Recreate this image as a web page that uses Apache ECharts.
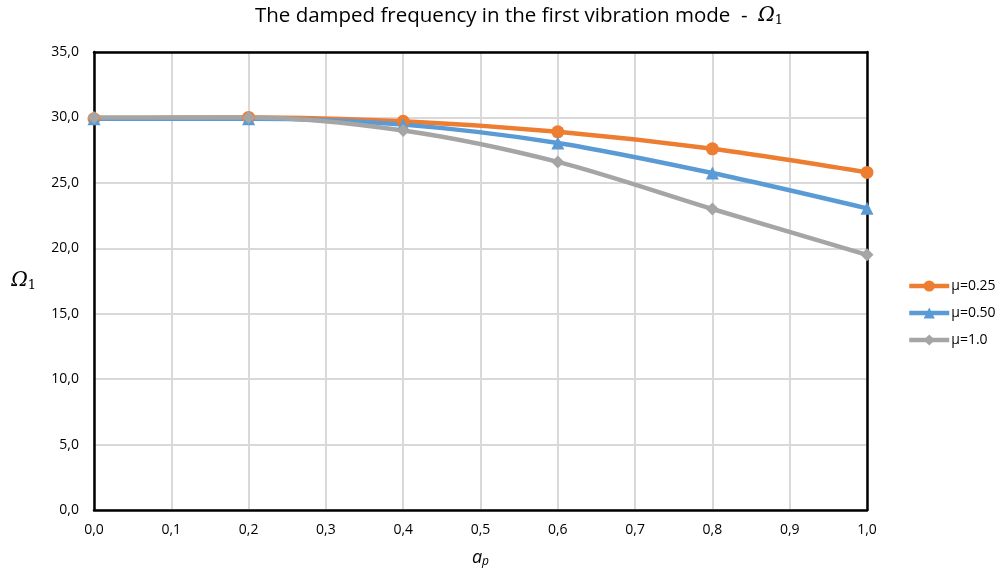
<!DOCTYPE html>
<html><head><meta charset="utf-8">
<script src="https://cdn.jsdelivr.net/npm/echarts@6/dist/echarts.min.js"></script>
<style>html,body{margin:0;padding:0;background:#fff}#c{width:1002px;height:582px}</style>
</head><body><div id="c"></div>
<script>
const xValues = [0.0, 0.2, 0.4, 0.6, 0.8, 1.0];
const mu025 = [29.9, 30.0, 29.7, 28.9, 27.6, 25.8];
const mu050 = [29.9, 29.9, 29.45, 28.05, 25.75, 23.05];
const mu100 = [30.0, 30.0, 29.0, 26.6, 23.0, 19.5];
const seriesNames = ['μ=0.25', 'μ=0.50', 'μ=1.0'];

const font = '"Open Sans", "Liberation Sans", sans-serif';
const pairs = v => xValues.map((x, i) => [x, v[i]]);
const fmt = v => v.toFixed(1).replace('.', ',');
const chart = echarts.init(document.getElementById('c'));
const mk = (name, data, color, symbol, size) => ({
  name, type: 'line', data: pairs(data), smooth: 0.3,
  symbol, symbolSize: size,
  lineStyle: { color, width: 4.5 }, itemStyle: { color },
  emphasis: { disabled: true }, z: 3
});
const frameAxis = { show: true, axisLine: { show: true, onZero: false, lineStyle: { color: '#000', width: 2.5 } },
  axisTick: { show: false }, axisLabel: { show: false }, splitLine: { show: false } };
chart.setOption({
  animation: false,
  title: {
    text: '{a|The damped frequency in the first vibration mode  -  }{o|Ω}{s|1}',
    left: 514, top: 0, textAlign: 'center',
    textStyle: {
      fontWeight: 'normal',
      rich: {
        a: { fontFamily: font, fontSize: 20.5, fontWeight: 'normal', color: '#000' },
        o: { fontFamily: '"DejaVu Serif", serif', fontStyle: 'italic', fontWeight: 'normal', fontSize: 20, color: '#000' },
        s: { fontFamily: '"DejaVu Serif", serif', fontWeight: 'normal', fontSize: 13, color: '#000', padding: [9, 0, 0, 0] }
      }
    }
  },
  grid: { left: 94, right: 135, top: 52, bottom: 72 },
  legend: {
    orient: 'vertical', left: 902, top: 274, itemGap: 13, itemWidth: 40, itemHeight: 14,
    data: seriesNames,
    lineStyle: { width: 4.5 },
    textStyle: { fontFamily: font, fontSize: 14, color: '#000', padding: [0, 0, 0, -3] }
  },
  xAxis: [{
    type: 'value', min: 0, max: 1, interval: 0.1,
    name: '{i|a}{s|p}', nameLocation: 'middle', nameGap: 38,
    nameTextStyle: { rich: {
      i: { fontFamily: font, fontStyle: 'italic', fontSize: 18, color: '#000' },
      s: { fontFamily: font, fontStyle: 'italic', fontSize: 12, color: '#000', padding: [8, 0, 0, 0] }
    } },
    axisLine: { lineStyle: { color: '#000', width: 2.5 } },
    axisTick: { show: false },
    axisLabel: { fontFamily: font, fontSize: 14, color: '#000', margin: 13, formatter: fmt },
    splitLine: { show: true, lineStyle: { color: '#d9d9d9', width: 2 } },
    z: 2
  }, Object.assign({ type: 'value', position: 'top', min: 0, max: 1, z: 2 }, frameAxis)],
  yAxis: [{
    type: 'value', min: 0, max: 35, interval: 5,
    name: '{o|Ω}{s|1}', nameLocation: 'middle', nameGap: 58, nameRotate: 0,
    nameTextStyle: { rich: {
      o: { fontFamily: '"DejaVu Serif", serif', fontStyle: 'italic', fontSize: 20, color: '#000' },
      s: { fontFamily: '"DejaVu Serif", serif', fontSize: 13, color: '#000', padding: [9, 0, 0, 0] }
    } },
    axisLine: { show: true, lineStyle: { color: '#000', width: 2.5 } },
    axisTick: { show: false },
    axisLabel: { fontFamily: font, fontSize: 14, color: '#000', margin: 15, formatter: fmt },
    splitLine: { show: true, lineStyle: { color: '#d9d9d9', width: 2 } },
    z: 2
  }, Object.assign({ type: 'value', position: 'right', min: 0, max: 35, z: 2 }, frameAxis)],
  series: [
    mk(seriesNames[0], mu025, '#ED7D31', 'circle', 13),
    mk(seriesNames[1], mu050, '#5B9BD5', 'triangle', 13),
    mk(seriesNames[2], mu100, '#A5A5A5', 'diamond', 13)
  ]
});
</script></body></html>
